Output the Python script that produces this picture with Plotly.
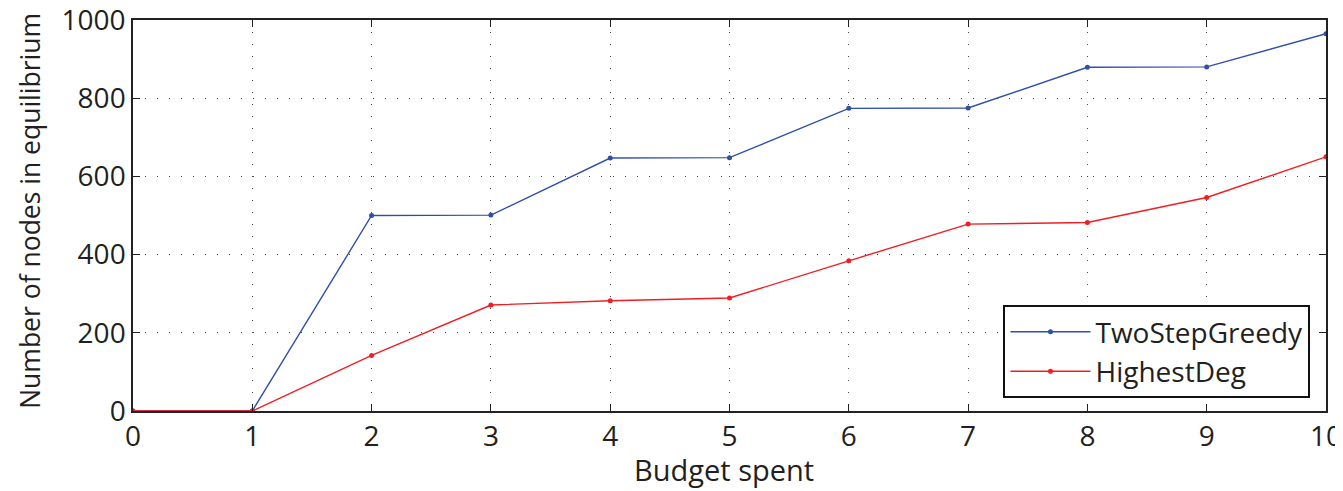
import plotly.graph_objects as go

budget = [0, 1, 2, 3, 4, 5, 6, 7, 8, 9, 10]
two_step_greedy = [0, 0, 500, 501, 647, 648, 774, 775, 879, 880, 965]
highest_deg = [0, 0, 142, 271, 282, 289, 384, 478, 482, 546, 650]
x_ticks = [0, 1, 2, 3, 4, 5, 6, 7, 8, 9, 10]
y_ticks = [0, 200, 400, 600, 800, 1000]

FONT = "Open Sans"
TXT = "#231f20"

fig = go.Figure()
fig.add_trace(go.Scatter(
    x=budget, y=two_step_greedy, name="TwoStepGreedy", mode="lines+markers",
    line=dict(color="#3050a8", width=1.4), marker=dict(size=5, color="#3050a8")))
fig.add_trace(go.Scatter(
    x=budget, y=highest_deg, name="HighestDeg", mode="lines+markers",
    line=dict(color="#f01e23", width=1.4), marker=dict(size=5, color="#f01e23")))

axis_common = dict(
    showline=True, linecolor="#222", linewidth=1.5, mirror="ticks",
    ticks="inside", ticklen=7, tickcolor="#222", tickwidth=1.3,
    showgrid=True, gridcolor="#444", griddash="1px,11px", gridwidth=1.2,
    zeroline=False, automargin=False, ticklabeloverflow="allow",
    tickfont=dict(family=FONT, size=28, color=TXT),
)

fig.update_xaxes(range=[0, 10], tickvals=x_ticks, **axis_common)
fig.update_yaxes(range=[0, 1000], tickvals=y_ticks, **axis_common)

fig.add_annotation(text="Budget spent", xref="paper", yref="paper",
                   x=0.495, y=-0.15, xanchor="center", yanchor="middle",
                   showarrow=False, font=dict(family=FONT, size=29, color=TXT))
fig.add_annotation(text="Number of nodes in equilibrium", xref="paper", yref="paper",
                   x=-0.0863, y=0.512, xanchor="center", yanchor="middle", textangle=-90,
                   showarrow=False, font=dict(family=FONT, size=26.5, color=TXT))

fig.update_layout(
    width=1335, height=483,
    margin=dict(l=125, r=17, t=12, b=80, autoexpand=False),
    plot_bgcolor="white", paper_bgcolor="white",
    legend=dict(x=0.987, y=0.033, xanchor="right", yanchor="bottom",
                bgcolor="white", bordercolor="#111", borderwidth=2,
                font=dict(family=FONT, size=28, color=TXT),
                itemwidth=80, tracegroupgap=0,
                entrywidth=330, entrywidthmode="pixels"),
    showlegend=True,
)

fig.write_html("out.html")
